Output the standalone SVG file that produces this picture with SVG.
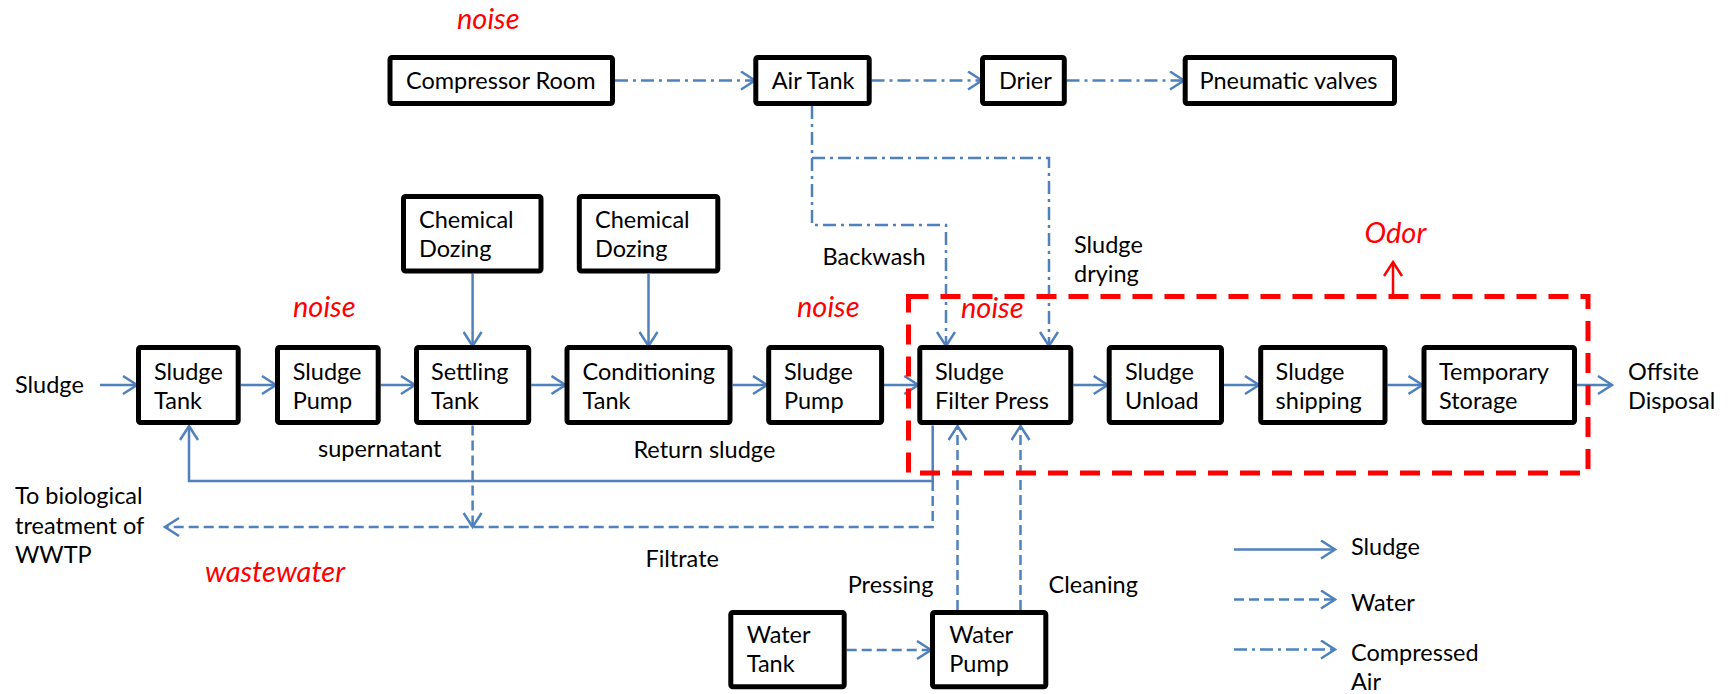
<svg xmlns="http://www.w3.org/2000/svg" width="1733" height="694" viewBox="0 0 1733 694">
<defs>
<style>
.box{fill:#fff;stroke:#000;stroke-width:5}
.t{font-family:Lato,"Liberation Sans",sans-serif;font-size:23.5px;fill:#000}
.r{font-family:Lato,"Liberation Sans",sans-serif;font-size:29px;font-style:italic;fill:#f00}
.c{fill:none;stroke:#4F81BD;stroke-width:2.5}
.sl{marker-end:url(#ab)}
.wa{stroke-dasharray:10 5}
.air{stroke-dasharray:13 5 3 5}
</style>
<marker id="ab" markerUnits="userSpaceOnUse" markerWidth="20" markerHeight="22" refX="15" refY="10" orient="auto" viewBox="0 0 20 22">
<path d="M1,1 L15,10 L1,19" fill="none" stroke="#4F81BD" stroke-width="2.5"/>
</marker>
<marker id="ar" markerUnits="userSpaceOnUse" markerWidth="20" markerHeight="22" refX="15" refY="10" orient="auto" viewBox="0 0 20 22">
<path d="M1,1 L15,10 L1,19" fill="none" stroke="#f00" stroke-width="2.5"/>
</marker>
</defs>
<rect width="1733" height="694" fill="#fff"/>

<g id="connectors">
<path class="c air sl" d="M615,80.5 H755"/>
<path class="c air sl" d="M871.5,80.5 H982"/>
<path class="c air sl" d="M1066.5,80.5 H1184"/>
<path class="c air sl" d="M812,106 V225 H946 V346"/>
<path class="c air sl" d="M812,158 H1049 V346"/>
<path class="c sl" d="M100,385 H137"/>
<path class="c sl" d="M240.7,385 H276"/>
<path class="c sl" d="M380.7,385 H415"/>
<path class="c sl" d="M531.2,385 H565.5"/>
<path class="c sl" d="M732.5,385 H767"/>
<path class="c sl" d="M884,385 H918.3"/>
<path class="c sl" d="M1073.3,385 H1107.7"/>
<path class="c sl" d="M1224,385 H1259"/>
<path class="c sl" d="M1387.5,385 H1422.5"/>
<path class="c sl" d="M1577,385 H1612"/>
<path class="c sl" d="M472.6,273.5 V346"/>
<path class="c sl" d="M648.5,274 V346"/>
<path class="c wa sl" d="M472.6,425.5 V527"/>
<path class="c sl" d="M932.7,425.5 V481 H189 V426"/>
<path class="c wa sl" d="M932.7,481 V527 H165"/>
<path class="c wa sl" d="M957.5,610 V426"/>
<path class="c wa sl" d="M1020.5,610 V426"/>
<path class="c wa sl" d="M846.7,650 H931"/>
<path d="M1393,296 V262" fill="none" stroke="#f00" stroke-width="2.5" marker-end="url(#ar)"/>
<path class="c sl" d="M1234,549.5 H1335"/>
<path class="c wa sl" d="M1234,599.5 H1335"/>
<path class="c air sl" d="M1234,649.5 H1335"/>
</g>

<g id="odor-zone">
<rect x="908.5" y="296.5" width="679.5" height="176.5" fill="none" stroke="#f00" stroke-width="5" stroke-dasharray="20 12"/>
<text class="r" x="1364.5" y="243">Odor</text>
</g>

<g id="compressor-room"><rect class="box" x="390" y="57.5" width="222.5" height="46" rx="2"/><text class="t" x="406" y="89">Compressor Room</text></g>
<g id="air-tank"><rect class="box" x="755.8" y="57.5" width="113.4" height="46" rx="2"/><text class="t" x="771.7" y="89">Air Tank</text></g>
<g id="drier"><rect class="box" x="982.5" y="57.5" width="81.8" height="46" rx="2"/><text class="t" x="999" y="89">Drier</text></g>
<g id="pneumatic-valves"><rect class="box" x="1185.2" y="57.5" width="209.3" height="46" rx="2"/><text class="t" x="1199.5" y="89">Pneumatic valves</text></g>

<g id="chemical-dozing-1"><rect class="box" x="403.5" y="196.5" width="137.5" height="74.5" rx="2"/><text class="t" x="419" y="228">Chemical</text><text class="t" x="419" y="257">Dozing</text></g>
<g id="chemical-dozing-2"><rect class="box" x="579.3" y="196.5" width="138.5" height="74.5" rx="2"/><text class="t" x="595" y="228">Chemical</text><text class="t" x="595" y="257">Dozing</text></g>

<g id="sludge-tank"><rect class="box" x="138.5" y="347.5" width="99.7" height="75" rx="2"/><text class="t" x="154" y="380">Sludge</text><text class="t" x="154" y="409">Tank</text></g>
<g id="sludge-pump-1"><rect class="box" x="277.5" y="347.5" width="100.7" height="75" rx="2"/><text class="t" x="292.7" y="380">Sludge</text><text class="t" x="292.7" y="409">Pump</text></g>
<g id="settling-tank"><rect class="box" x="416.5" y="347.5" width="112.2" height="75" rx="2"/><text class="t" x="431" y="380">Settling</text><text class="t" x="431" y="409">Tank</text></g>
<g id="conditioning-tank"><rect class="box" x="567" y="347.5" width="163" height="75" rx="2"/><text class="t" x="582.5" y="380">Conditioning</text><text class="t" x="582.5" y="409">Tank</text></g>
<g id="sludge-pump-2"><rect class="box" x="768.7" y="347.5" width="112.9" height="75" rx="2"/><text class="t" x="784" y="380">Sludge</text><text class="t" x="784" y="409">Pump</text></g>
<g id="filter-press"><rect class="box" x="919.8" y="347.5" width="151" height="75" rx="2"/><text class="t" x="935" y="380">Sludge</text><text class="t" x="935" y="409">Filter Press</text></g>
<g id="sludge-unload"><rect class="box" x="1109.2" y="347.5" width="112.3" height="75" rx="2"/><text class="t" x="1125" y="380">Sludge</text><text class="t" x="1125" y="409">Unload</text></g>
<g id="sludge-shipping"><rect class="box" x="1260.7" y="347.5" width="124.3" height="75" rx="2"/><text class="t" x="1275.6" y="380">Sludge</text><text class="t" x="1275.6" y="409">shipping</text></g>
<g id="temporary-storage"><rect class="box" x="1424" y="347.5" width="150.5" height="75" rx="2"/><text class="t" x="1439" y="380">Temporary</text><text class="t" x="1439" y="409">Storage</text></g>

<g id="water-tank"><rect class="box" x="730.8" y="612.5" width="113.4" height="74.3" rx="2"/><text class="t" x="746.7" y="643">Water</text><text class="t" x="746.7" y="672">Tank</text></g>
<g id="water-pump"><rect class="box" x="932.5" y="612.5" width="113.3" height="74.3" rx="2"/><text class="t" x="949.3" y="643">Water</text><text class="t" x="949.3" y="672">Pump</text></g>

<g id="labels">
<text class="r" x="457" y="29">noise</text>
<text class="r" x="293" y="317">noise</text>
<text class="r" x="797" y="317">noise</text>
<text class="r" x="961" y="318">noise</text>
<text class="r" x="205" y="582">wastewater</text>
<text class="t" x="15" y="393">Sludge</text>
<text class="t" x="822.5" y="265">Backwash</text>
<text class="t" x="1074" y="253">Sludge</text>
<text class="t" x="1074" y="282">drying</text>
<text class="t" x="318" y="457">supernatant</text>
<text class="t" x="633.4" y="458">Return sludge</text>
<text class="t" x="15" y="504">To biological</text>
<text class="t" x="15" y="533.5">treatment of</text>
<text class="t" x="15" y="563">WWTP</text>
<text class="t" x="645.4" y="567">Filtrate</text>
<text class="t" x="847.7" y="593">Pressing</text>
<text class="t" x="1048.5" y="593">Cleaning</text>
<text class="t" x="1628" y="380">Offsite</text>
<text class="t" x="1628" y="409">Disposal</text>
</g>

<g id="legend">
<text class="t" x="1351" y="555">Sludge</text>
<text class="t" x="1351" y="610.5">Water</text>
<text class="t" x="1351" y="660.5">Compressed</text>
<text class="t" x="1351" y="690">Air</text>
</g>
</svg>
